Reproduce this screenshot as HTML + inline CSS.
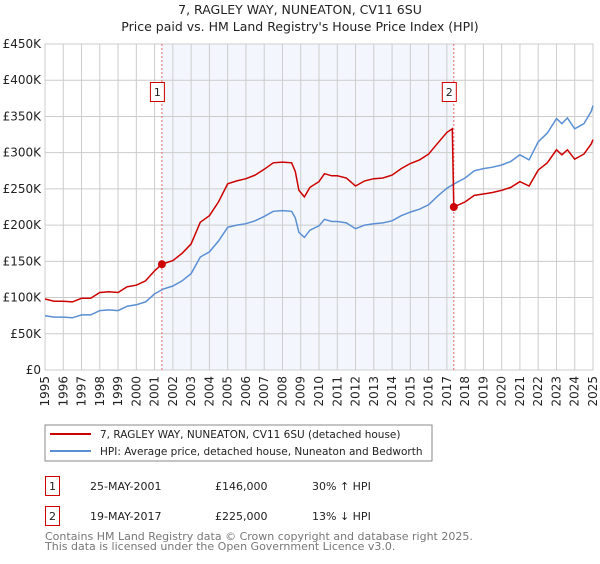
<!DOCTYPE html>
<html><head><meta charset="utf-8"><style>
body{margin:0;background:#fff;font-family:"DejaVu Sans","Liberation Sans",sans-serif;}
svg text{font-family:"DejaVu Sans","Liberation Sans",sans-serif;}
</style></head><body>
<svg id="c" width="600" height="560" xmlns="http://www.w3.org/2000/svg">
<text x="300" y="14" text-anchor="middle" font-size="12.5" fill="#222">7, RAGLEY WAY, NUNEATON, CV11 6SU</text>
<text x="300" y="31" text-anchor="middle" font-size="12.5" fill="#222">Price paid vs. HM Land Registry's House Price Index (HPI)</text>
<g id="plot"></g>
<rect x="45" y="425" width="387" height="36" fill="#fff" stroke="#888"/>
<line x1="50" y1="434" x2="91" y2="434" stroke="#cc0000" stroke-width="2"/>
<text x="100" y="438" font-size="10.5" fill="#222">7, RAGLEY WAY, NUNEATON, CV11 6SU (detached house)</text>
<line x1="50" y1="451" x2="91" y2="451" stroke="#5b8fd4" stroke-width="2"/>
<text x="100" y="455" font-size="10.5" fill="#222">HPI: Average price, detached house, Nuneaton and Bedworth</text>
<g>
<rect x="45.5" y="476.5" width="14" height="19" fill="#fff" stroke="#cc0000"/>
<text x="52.5" y="490" text-anchor="middle" font-size="11" fill="#222">1</text>
<text x="90" y="490" font-size="11" fill="#222">25-MAY-2001</text>
<text x="215" y="490" font-size="11" fill="#222">£146,000</text>
<text x="312" y="490" font-size="11" fill="#222">30% ↑ HPI</text>
</g>
<g>
<rect x="45.5" y="506.5" width="14" height="19" fill="#fff" stroke="#cc0000"/>
<text x="52.5" y="520" text-anchor="middle" font-size="11" fill="#222">2</text>
<text x="90" y="520" font-size="11" fill="#222">19-MAY-2017</text>
<text x="215" y="520" font-size="11" fill="#222">£225,000</text>
<text x="312" y="520" font-size="11" fill="#222">13% ↓ HPI</text>
</g>
<text x="45" y="540" font-size="11" fill="#777">Contains HM Land Registry data © Crown copyright and database right 2025.</text>
<text x="45" y="550" font-size="11" fill="#777">This data is licensed under the Open Government Licence v3.0.</text>
</svg>
<script>
const hpiT=[1995.0,1995.5,1996.0,1996.5,1997.0,1997.5,1998.0,1998.5,1999.0,1999.5,2000.0,2000.5,2001.0,2001.5,2002.0,2002.5,2003.0,2003.5,2004.0,2004.5,2005.0,2005.5,2006.0,2006.5,2007.0,2007.5,2008.0,2008.5,2008.7,2008.9,2009.2,2009.5,2010.0,2010.3,2010.7,2011.0,2011.5,2012.0,2012.5,2013.0,2013.5,2014.0,2014.5,2015.0,2015.5,2016.0,2016.5,2017.0,2017.4,2018.0,2018.5,2019.0,2019.5,2020.0,2020.5,2021.0,2021.5,2022.0,2022.5,2023.0,2023.3,2023.6,2024.0,2024.5,2024.9,2025.0];
const hpiV=[75,73,73,72,76,76,82,83,82,88,90,94,105,112,116,123,133,156,163,178,197,200,202,206,212,219,220,219,210,190,183,193,199,208,205,205,203,195,200,202,203,206,213,218,222,228,240,251,257,265,275,278,280,283,288,297,290,315,327,347,340,348,333,340,357,365];
const redT=[1995.0,1995.5,1996.0,1996.5,1997.0,1997.5,1998.0,1998.5,1999.0,1999.5,2000.0,2000.5,2001.0,2001.4,2002.0,2002.5,2003.0,2003.5,2004.0,2004.5,2005.0,2005.5,2006.0,2006.5,2007.0,2007.5,2008.0,2008.5,2008.7,2008.9,2009.2,2009.5,2010.0,2010.3,2010.7,2011.0,2011.5,2012.0,2012.5,2013.0,2013.5,2014.0,2014.5,2015.0,2015.5,2016.0,2016.5,2017.0,2017.3,2017.38,2018.0,2018.5,2019.0,2019.5,2020.0,2020.5,2021.0,2021.5,2022.0,2022.5,2023.0,2023.3,2023.6,2024.0,2024.5,2024.9,2025.0];
const redV=[98,95,95,94,99,99,107,108,107,115,117,123,137,146,151,161,174,204,213,232,257,261,264,269,277,286,287,286,274,248,239,252,260,271,268,268,265,254,261,264,265,269,278,285,290,298,313,328,333,225,232,241,243,245,248,252,260,254,276,286,304,297,304,291,298,312,318];
const saleT=[2001.4,2017.38];
const saleV=[146,225];
const saleLabels=["1","2"];
const yTicks=[0,50,100,150,200,250,300,350,400,450];
const yTickLabels=["£0","£50K","£100K","£150K","£200K","£250K","£300K","£350K","£400K","£450K"];
const xYears=[1995,1996,1997,1998,1999,2000,2001,2002,2003,2004,2005,2006,2007,2008,2009,2010,2011,2012,2013,2014,2015,2016,2017,2018,2019,2020,2021,2022,2023,2024,2025];

const L=45,R=593,T=44,B=370;
const X=t=>L+(t-1995)/30*(R-L);
const Y=v=>B-v/450*(B-T);
const NS="http://www.w3.org/2000/svg";
const g=document.getElementById('plot');
function mk(tag,attrs,parent){const e=document.createElementNS(NS,tag);for(const k in attrs)e.setAttribute(k,attrs[k]);(parent||g).appendChild(e);return e;}
let sh=mk('rect',{x:X(saleT[0]),y:T,width:X(saleT[1])-X(saleT[0]),height:B-T,fill:'#eef3fc',opacity:0.7});


yTicks.forEach((v,i)=>{
 let l=mk('line',{x1:L,x2:R,y1:Y(v),y2:Y(v),stroke:'#ccc','stroke-width':1});
 
 
 let t=mk('text',{x:L-4,y:Y(v)+4,'text-anchor':'end','font-size':12,fill:'#222'});
 t.textContent=yTickLabels[i];
 
 
});
xYears.forEach(yr=>{
 let l=mk('line',{x1:X(yr),x2:X(yr),y1:T,y2:B,stroke:'#ccc','stroke-width':1});
 
 
 let t=mk('text',{x:0,y:0,'text-anchor':'end','font-size':12,fill:'#222',transform:`translate(${X(yr)+4},${B+6}) rotate(-90)`});
 t.textContent=yr;
 
 
});
let fr=mk('rect',{x:L,y:T,width:R-L,height:B-T,fill:'none',stroke:'#ccc'});


saleT.forEach((t,i)=>{
 let l=mk('line',{x1:X(t),x2:X(t),y1:T,y2:B,stroke:'#e66','stroke-width':1,'stroke-dasharray':'2,2'});
 
 
});
function path(ts,vs,col,name){
 let d=ts.map((t,i)=>(i?'L':'M')+X(t).toFixed(1)+','+Y(vs[i]).toFixed(1)).join('');
 let p=mk('path',{d:d,fill:'none',stroke:col,'stroke-width':1.5});
 
 
}
path(hpiT,hpiV,'#5b8fd4','hpi-line');
path(redT,redV,'#cc0000','property-line');
saleT.forEach((t,i)=>{
 let c=mk('circle',{cx:X(t),cy:Y(saleV[i]),r:4,fill:'#cc0000'});
 
 
 let bx=mk('rect',{x:X(t)-11.5,y:82.5,width:14,height:19,fill:'#fff',stroke:'#cc0000'});
 
 
 let tx=mk('text',{x:X(t)-4.5,y:96,'text-anchor':'middle','font-size':11,fill:'#222'});
 tx.textContent=saleLabels[i];
 
 
});
</script>
</body></html>
